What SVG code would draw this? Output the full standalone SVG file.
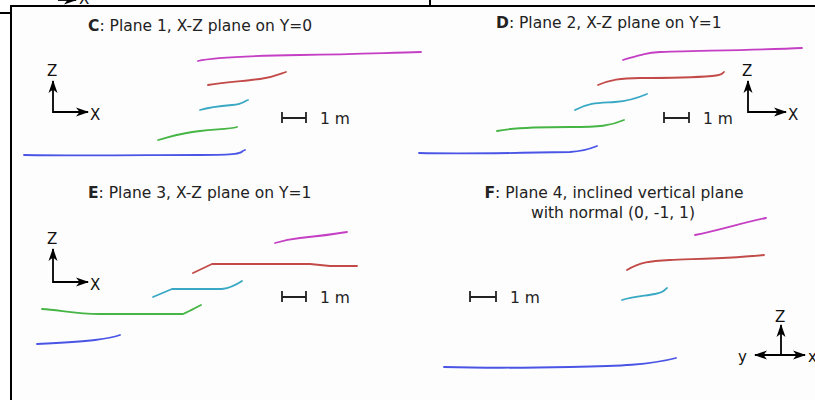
<svg xmlns="http://www.w3.org/2000/svg" width="815" height="400" viewBox="0 0 815 400">
<style>
text{font-family:"DejaVu Sans",Verdana,sans-serif;font-size:15.5px;fill:#222}
.al{font-size:15px;fill:#111}
.c{fill:none;stroke-width:1.8;stroke-linecap:round;stroke-linejoin:round}
.m{stroke:#c43fc4}.r{stroke:#c24a48}.cy{stroke:#38a8c4}.g{stroke:#45b545}.b{stroke:#4a55e6}
.ax{fill:none;stroke:#000;stroke-width:1.8}
.sb{fill:none;stroke:#222;stroke-width:1.8}
.frame{fill:none;stroke:#000;stroke-width:2}
</style>
<defs>
<marker id="ah" viewBox="0 0 13 10" refX="12" refY="5" markerWidth="13" markerHeight="10" markerUnits="userSpaceOnUse" orient="auto-start-reverse"><path d="M0,0.5 L13,5 L0,9.5 L3.5,5 Z" fill="#000"/></marker>
</defs>
<rect x="11" y="6" width="804" height="394" fill="#fdfdfd"/>
<g id="frame">
<path class="frame" d="M11,400 V6 H815"/>
<path class="frame" d="M0,13 H11"/>
<path class="frame" d="M430,0 V6"/>
<path class="ax" d="M58,0 H76" marker-end="url(#ah)"/>
<text x="79" y="4" class="al">X</text>
</g>
<g id="panelC">
<text x="88" y="31"><tspan font-weight="bold">C</tspan>: Plane 1, X-Z plane on Y=0</text>
<path class="ax" d="M53,81 V112 H88" marker-start="url(#ah)" marker-end="url(#ah)"/>
<text x="47" y="76" class="al">Z</text>
<text x="90" y="120" class="al">X</text>
<path class="sb" d="M282,112 V123 M282,118 H306 M306,112 V123"/>
<text x="320" y="124">1 m</text>
<path class="c m" d="M198,61 C210,58 240,56 300,55 S380,53 421,52"/>
<path class="c r" d="M208,85 C225,82 245,81 260,79 S280,74 286,72"/>
<path class="c cy" d="M200,110 C210,107 220,106 232,105 S244,101 248,100"/>
<path class="c g" d="M158,140 C170,137 180,133 200,131 S230,129 237,127"/>
<path class="c b" d="M24,155 C80,156 150,155 200,155 S238,152 245,150"/>
</g>
<g id="panelD">
<text x="496" y="28"><tspan font-weight="bold">D</tspan>: Plane 2, X-Z plane on Y=1</text>
<path class="ax" d="M748,81 V112 H786" marker-start="url(#ah)" marker-end="url(#ah)"/>
<text x="742" y="76" class="al">Z</text>
<text x="788" y="120" class="al">X</text>
<path class="sb" d="M664,112 V123 M664,118 H689 M689,112 V123"/>
<text x="703" y="124">1 m</text>
<path class="c m" d="M623,60 C640,55 645,53 660,52 S760,50 802,48"/>
<path class="c r" d="M598,85 C610,80 620,78 640,78 S700,77 712,76 S722,73 724,72"/>
<path class="c cy" d="M575,110 C590,102 600,103 615,102 S640,97 647,94"/>
<path class="c g" d="M497,131 C510,128 540,127 570,127 S610,126 624,120"/>
<path class="c b" d="M419,153 C460,154 520,153 570,152 C585,151 592,148 597,146"/>
</g>
<g id="panelE">
<text x="88" y="198"><tspan font-weight="bold">E</tspan>: Plane 3, X-Z plane on Y=1</text>
<path class="ax" d="M53,249 V282 H88" marker-start="url(#ah)" marker-end="url(#ah)"/>
<text x="47" y="244" class="al">Z</text>
<text x="90" y="290" class="al">X</text>
<path class="sb" d="M282,291 V302 M282,297 H306 M306,291 V302"/>
<text x="320" y="303">1 m</text>
<path class="c m" d="M275,243 C285,240 290,239 300,238 S335,234 347,232"/>
<path class="c r" d="M193,273 L212,264 L310,264 L330,266 L357,266"/>
<path class="c cy" d="M153,297 L172,289 L222,289 C230,288 236,285 242,281"/>
<path class="c g" d="M42,309 C60,310 75,314 100,314 L183,314 C190,311 195,308 201,305"/>
<path class="c b" d="M37,344 C60,343 80,342 95,340 S115,337 120,335"/>
</g>
<g id="panelF">
<text x="614" y="198" text-anchor="middle"><tspan font-weight="bold">F</tspan>: Plane 4, inclined vertical plane</text>
<text x="613" y="218" text-anchor="middle">with normal (0, -1, 1)</text>
<path class="ax" d="M781,355 V325" marker-end="url(#ah)"/>
<path class="ax" d="M755,355 H805" marker-start="url(#ah)" marker-end="url(#ah)"/>
<text x="775" y="322" class="al">Z</text>
<text x="738" y="362" class="al">y</text>
<text x="808" y="362" class="al">x</text>
<path class="sb" d="M470,291 V302 M470,297 H496 M496,291 V302"/>
<text x="510" y="303">1 m</text>
<path class="c m" d="M695,235 C720,230 745,222 766,218"/>
<path class="c r" d="M627,270 C640,262 650,261 670,260 S740,258 764,255"/>
<path class="c cy" d="M622,300 C635,296 645,296 655,294 S664,290 667,288"/>
<path class="c b" d="M444,367 C480,368 520,368 570,367 S650,365 676,358"/>
</g>
</svg>
